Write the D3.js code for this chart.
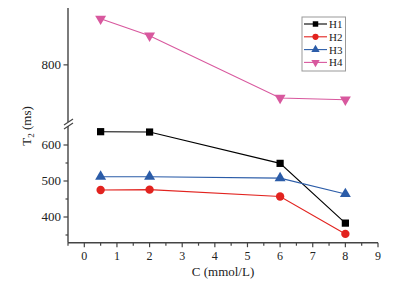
<!DOCTYPE html>
<html>
<head>
<meta charset="utf-8">
<script src="https://cdn.jsdelivr.net/npm/d3@7"></script>
<style>
  body { margin: 0; background: #fff; }
  svg text { font-family: "Liberation Serif", "DejaVu Serif", serif; fill: #222; }
</style>
</head>
<body>
<div id="chart"></div>
<script>
// data
const conc = [0.5, 2, 6, 8];
const seriesNames = ["H1", "H2", "H3", "H4"];
const h1 = [637, 636, 549, 383];
const h2 = [475, 476, 457, 353];
const h3 = [512, 512, 508, 464];
const h4 = [928, 881, 708, 703];
const xTicks = [0, 1, 2, 3, 4, 5, 6, 7, 8, 9];
const yTicksLow = [400, 500, 600];
const yTicksHigh = [800];

const colours = ["#000000", "#e2231f", "#2b5ca8", "#d8589e"];
const shapes = [d3.symbolSquare, d3.symbolCircle, d3.symbolTriangle, d3.symbolTriangle];

const width = 393, height = 284;
const svg = d3.select("#chart").append("svg")
    .attr("width", width)
    .attr("height", height);

// scales: one x, two y segments (broken axis)
const x = d3.scaleLinear().domain([-0.5, 9]).range([68, 378]);
const yLow = d3.scaleLinear().domain([328.6, 650]).range([242.7, 127]);
const yHigh = d3.scaleLinear().domain([644, 958]).range([121, 8]);

const axisColour = "#444";

// x axis
const xAxis = svg.append("g").attr("transform", "translate(0,242.7)");
xAxis.append("line").attr("x1", 68).attr("x2", 378).attr("stroke", axisColour).attr("stroke-width", 1.4);
const minorX = d3.range(-0.5, 9.01, 0.5);
xAxis.selectAll(".tk").data(minorX).join("line")
    .attr("x1", d => x(d)).attr("x2", d => x(d))
    .attr("y1", 0).attr("y2", d => Number.isInteger(d) ? 4.5 : 3)
    .attr("stroke", axisColour).attr("stroke-width", 1.2);
xAxis.selectAll("text").data(xTicks).join("text")
    .attr("x", d => x(d)).attr("y", 17)
    .attr("text-anchor", "middle")
    .style("font-size", "12px")
    .text(d => d);
svg.append("text")
    .attr("x", 223).attr("y", 276)
    .attr("text-anchor", "middle")
    .style("font-size", "13px")
    .text("C (mmol/L)");

// y axis, lower and upper parts
const yAxis = svg.append("g");
yAxis.append("line").attr("x1", 68).attr("x2", 68).attr("y1", 242.7).attr("y2", 126)
    .attr("stroke", axisColour).attr("stroke-width", 1.4);
yAxis.append("line").attr("x1", 68).attr("x2", 68).attr("y1", 122).attr("y2", 8)
    .attr("stroke", axisColour).attr("stroke-width", 1.4);
// break marks
[0, 4].forEach(off => {
    yAxis.append("line")
        .attr("x1", 64).attr("y1", 125 + off).attr("x2", 73).attr("y2", 119 + off)
        .attr("stroke", axisColour).attr("stroke-width", 1.2);
});

const minorLow = [350, 450, 550];
yAxis.selectAll(".mj").data(yTicksLow).join("line")
    .attr("x1", 63.5).attr("x2", 68).attr("y1", d => yLow(d)).attr("y2", d => yLow(d))
    .attr("stroke", axisColour).attr("stroke-width", 1.2);
yAxis.selectAll(".mn").data(minorLow).join("line")
    .attr("x1", 65.5).attr("x2", 68).attr("y1", d => yLow(d)).attr("y2", d => yLow(d))
    .attr("stroke", axisColour).attr("stroke-width", 1.2);
yAxis.selectAll(".lbl").data(yTicksLow).join("text")
    .attr("x", 61).attr("y", d => yLow(d) + 4.5)
    .attr("text-anchor", "end")
    .style("font-size", "13px")
    .text(d => d);
yAxis.selectAll(".mjh").data(yTicksHigh).join("line")
    .attr("x1", 63.5).attr("x2", 68).attr("y1", d => yHigh(d)).attr("y2", d => yHigh(d))
    .attr("stroke", axisColour).attr("stroke-width", 1.2);
yAxis.selectAll(".lblh").data(yTicksHigh).join("text")
    .attr("x", 61).attr("y", d => yHigh(d) + 4.5)
    .attr("text-anchor", "end")
    .style("font-size", "13px")
    .text(d => d);

// y title T2 (ms)
const yt = svg.append("text")
    .attr("transform", "translate(31,126) rotate(-90)")
    .attr("text-anchor", "middle")
    .style("font-size", "13px");
yt.append("tspan").text("T");
yt.append("tspan").attr("dy", 3).style("font-size", "9px").text("2");
yt.append("tspan").attr("dy", -3).text(" (ms)");

// series
const allSeries = [h1, h2, h3, h4];
const line = d3.line().x(d => x(d[0])).y(d => d[2](d[1]));
allSeries.forEach((vals, i) => {
    const sc = i === 3 ? yHigh : yLow;
    const pts = conc.map((c, j) => [c, vals[j], sc]);
    svg.append("path")
        .attr("d", line(pts))
        .attr("fill", "none")
        .attr("stroke", colours[i])
        .attr("stroke-width", 1.1);
    svg.selectAll(".m" + i).data(pts).join("path")
        .attr("transform", d => `translate(${x(d[0])},${sc(d[1])})` + (i === 3 ? " rotate(180)" : ""))
        .attr("d", d3.symbol().type(shapes[i]).size(i === 1 ? 55 : 52))
        .attr("fill", colours[i]);
});

// legend
const lg = svg.append("g");
lg.append("rect").attr("x", 302).attr("y", 17).attr("width", 43.5).attr("height", 54)
    .attr("fill", "#fff").attr("stroke", "#999").attr("stroke-width", 1);
seriesNames.forEach((name, i) => {
    const yy = 24 + i * 12.8;
    lg.append("line").attr("x1", 304).attr("x2", 327).attr("y1", yy).attr("y2", yy)
        .attr("stroke", colours[i]).attr("stroke-width", 1.1);
    lg.append("path")
        .attr("transform", `translate(315.5,${yy})` + (i === 3 ? " rotate(180)" : ""))
        .attr("d", d3.symbol().type(shapes[i]).size(30))
        .attr("fill", colours[i]);
    lg.append("text").attr("x", 329).attr("y", yy + 4)
        .style("font-size", "11px")
        .text(name);
});
</script>
</body>
</html>
